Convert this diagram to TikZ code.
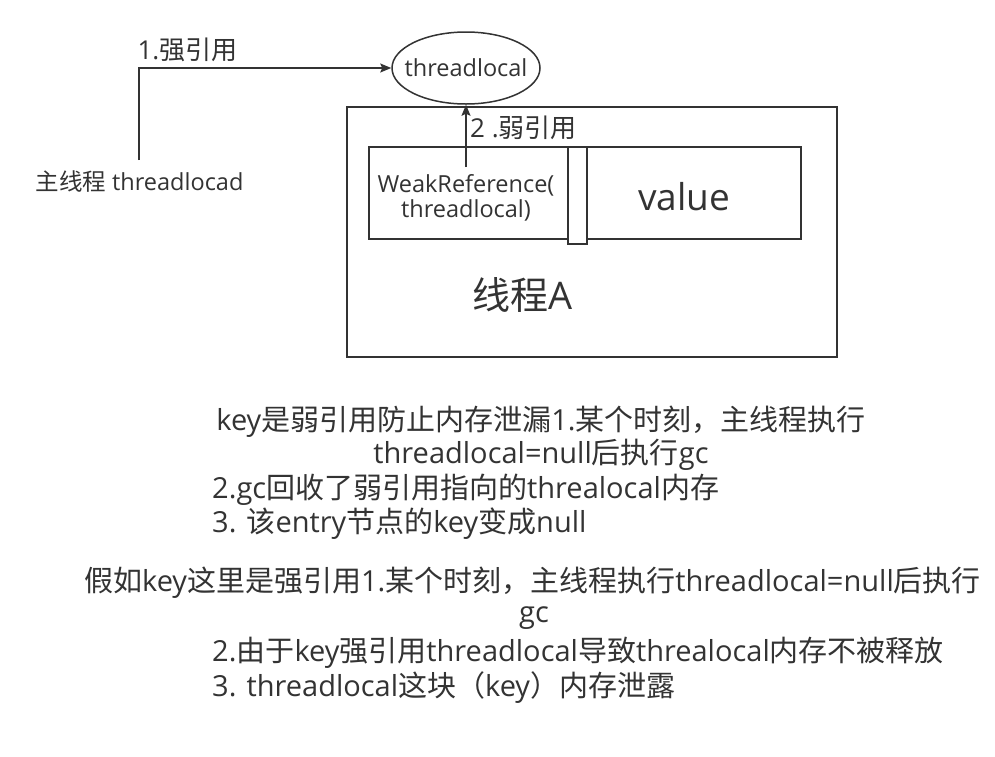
\documentclass[tikz,border=0pt]{standalone}
\usepackage{fontspec}
\setmainfont{Open Sans}
\newfontfamily\cjkfont{Noto Sans CJK SC}
\newcommand\zh[1]{{\cjkfont #1}}
\usetikzlibrary{shapes.geometric,arrows.meta}
\definecolor{ink}{HTML}{333333}
\begin{document}
\begin{tikzpicture}[x=1pt,y=-1pt,
  every node/.style={text=ink, inner sep=0pt},
  ln/.style={draw=ink, line width=1.5pt},
  arr/.style={ln, -{Stealth[length=11pt,width=9pt,inset=2pt]}},
  ell/.style={ln, ellipse, inner xsep=-14pt, inner ysep=0pt, minimum width=148pt, minimum height=72pt},
  boxs/.style={ln, fill=white, rectangle},
  fsm/.style={font=\fontsize{23.5}{25}\selectfont},
  flab/.style={font=\fontsize{26}{30}\selectfont},
  fbody/.style={font=\fontsize{29}{33}\selectfont},
]
\useasboundingbox[fill=white] (0,0) rectangle (995,756);

% threadlocal ellipse
\node[ell, fsm] (tl) at (466,68) {threadlocal};

% main thread
\node[fsm, anchor=center] (main) at (139.5,182) {\zh{主线程} threadlocad};
\coordinate (m0) at (139,160);
\draw[arr] (m0) |- (tl.west);
\node[flab] (lab1) at (187.5,50) {1.\zh{强引用}};

% thread A
\node[boxs, minimum width=490pt, minimum height=250pt] (thr) at (592,232) {};
\node[boxs, minimum width=199pt, minimum height=92pt] (key) at (468.5,193) {};
\node[boxs, minimum width=214pt, minimum height=92pt] (val) at (694,193) {};
\node[boxs, minimum width=19pt, minimum height=97pt] (sep) at (577.5,195.5) {};

\node[fsm, align=center] (wr) at (466,197.5) {WeakReference(\\threadlocal)};
\node[font=\fontsize{37}{40}\selectfont] (vt) at (684,197) {value};
\node[font=\fontsize{38}{42}\selectfont] (ta) at (523,295) {\zh{线程}A};

\coordinate (w0) at (466,167);
\draw[arr] (w0) -- (tl.south);
\node[flab, anchor=west] (lab2) at (470,128) {2 .\zh{弱引用}};

% explanation text
\node[fbody] (t1) at (541,422) {key\zh{是弱引用防止内存泄漏}1.\zh{某个时刻，主线程执行}};
\node[fbody] (t2) at (541,455) {threadlocal=null\zh{后执行}gc};
\node[fbody, anchor=west] (t3) at (212,490) {2.gc\zh{回收了弱引用指向的}threalocal\zh{内存}};
\node[fbody, anchor=west] (t4) at (212,524) {3. \zh{该}entry\zh{节点的}key\zh{变成}null};

\node[fbody] (t5) at (532.5,583) {\zh{假如}key\zh{这里是强引用}1.\zh{某个时刻，主线程执行}threadlocal=null\zh{后执行}};
\node[fbody] (t6) at (534,618) {gc};
\node[fbody, anchor=west] (t7) at (212,653) {2.\zh{由于}key\zh{强引用}threadlocal\zh{导致}threalocal\zh{内存不被释放}};
\node[fbody, anchor=west] (t8) at (212,688) {3. threadlocal\zh{这块（}key\zh{）内存泄露}};
\end{tikzpicture}
\end{document}
